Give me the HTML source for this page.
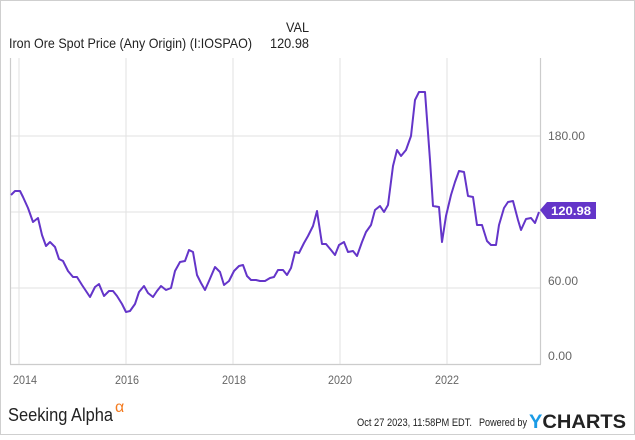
<!DOCTYPE html>
<html><head><style>
body{margin:0;background:#fff;}
svg text{font-family:"Liberation Sans",sans-serif;}
</style></head><body>
<svg width="635" height="435" xmlns="http://www.w3.org/2000/svg">
<rect x="0.5" y="0.5" width="634" height="434" fill="#fff" stroke="#cfcfcf"/>
<text x="286" y="32" font-size="14" fill="#222" textLength="23" lengthAdjust="spacingAndGlyphs">VAL</text>
<text x="9" y="48" font-size="14" fill="#222" textLength="243" lengthAdjust="spacingAndGlyphs">Iron Ore Spot Price (Any Origin) (I:IOSPAO)</text>
<text x="270" y="48" font-size="14" fill="#222" textLength="39" lengthAdjust="spacingAndGlyphs">120.98</text>
<g stroke="#e2e2e2" stroke-width="1">
<line x1="19" y1="58" x2="19" y2="364"/><line x1="126" y1="58" x2="126" y2="364"/>
<line x1="233" y1="58" x2="233" y2="364"/><line x1="340" y1="58" x2="340" y2="364"/>
<line x1="447" y1="58" x2="447" y2="364"/>
<line x1="10" y1="136" x2="540" y2="136"/><line x1="10" y1="212" x2="540" y2="212"/><line x1="10" y1="288" x2="540" y2="288"/>
</g>
<g stroke="#cccccc" stroke-width="1.2">
<line x1="10.5" y1="58" x2="10.5" y2="364"/><line x1="540.5" y1="58" x2="540.5" y2="364"/><line x1="10" y1="364.5" x2="541" y2="364.5"/>
</g>
<g font-size="12" fill="#666">
<text x="548" y="140" textLength="37" lengthAdjust="spacingAndGlyphs">180.00</text>
<text x="548" y="285" textLength="30" lengthAdjust="spacingAndGlyphs">60.00</text>
<text x="548" y="360" textLength="24" lengthAdjust="spacingAndGlyphs">0.00</text>
<text x="13" y="384" textLength="24" lengthAdjust="spacingAndGlyphs">2014</text>
<text x="115" y="384" textLength="24" lengthAdjust="spacingAndGlyphs">2016</text>
<text x="222" y="384" textLength="24" lengthAdjust="spacingAndGlyphs">2018</text>
<text x="328" y="384" textLength="24" lengthAdjust="spacingAndGlyphs">2020</text>
<text x="435" y="384" textLength="24" lengthAdjust="spacingAndGlyphs">2022</text>
</g>
<polyline fill="none" stroke="#6435c9" stroke-width="2" stroke-linejoin="round" points="11,195 15,191 20,191 23,197 28,208 33,222 38,218 42,235 46,246 50,242 55,247 59,259 63,261 68,271 73,277 77,277 82,285 86,291 90,297 95,287 99,284 104,296 109,291 113,291 117,296 122,304 126,312 130,311 135,304 139,292 144,286 148,293 153,297 157,291 161,286 166,290 171,288 175,271 180,262 185,261 189,250 193,252 197,275 201,283 205,290 209,281 215,267 220,272 224,285 229,281 234,271 239,266 243,265 247,276 251,280 256,280 260,281 265,281 270,278 274,277 278,270 283,270 287,275 291,268 295,252 299,253 304,243 308,236 313,226 317,211 322,244 326,244 331,250 335,255 339,245 344,242 348,252 353,251 357,256 362,242 366,232 371,225 375,210 380,206 384,212 388,205 393,166 397,150 401,156 406,150 411,136 415,100 419,92 425,92 430,160 433,206 439,207 442,242 446,216 451,195 455,182 459,171 464,172 468,196 473,197 477,225 482,225 487,241 491,245 496,245 499,225 504,208 508,202 513,201 518,220 521,230 526,219 531,218 535,223 539,212"/>
<path d="M540,210 L547,202 L596,202 L596,219 L547,219 Z" fill="#6435c9"/>
<text x="551" y="215" font-size="12" font-weight="bold" fill="#fff" textLength="40" lengthAdjust="spacingAndGlyphs">120.98</text>
<text x="8" y="421" font-size="18" fill="#222" textLength="105" lengthAdjust="spacingAndGlyphs">Seeking Alpha</text>
<text x="115" y="412" font-size="16" fill="#f47b20">α</text>
<text x="357" y="426" font-size="11" fill="#222" textLength="115" lengthAdjust="spacingAndGlyphs">Oct 27 2023, 11:58PM EDT.</text>
<text x="479" y="426" font-size="11" fill="#222" textLength="48" lengthAdjust="spacingAndGlyphs">Powered by</text>
<text x="529" y="428" font-size="19" font-weight="bold" fill="#222" textLength="97" lengthAdjust="spacingAndGlyphs"><tspan fill="#1a9be6">Y</tspan>CHARTS</text>
</svg>
</body></html>
